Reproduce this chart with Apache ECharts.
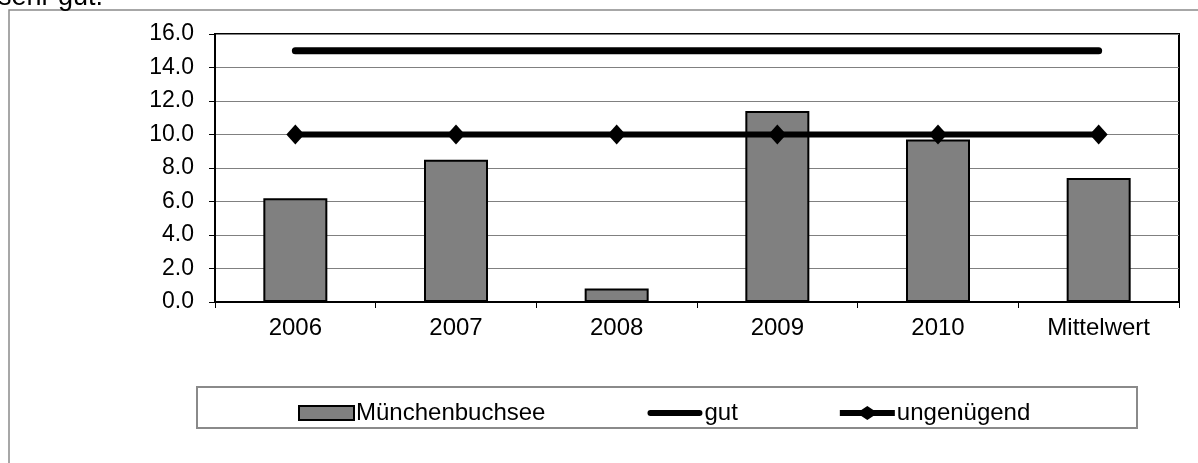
<!DOCTYPE html>
<html>
<head>
<meta charset="utf-8">
<script src="https://cdn.jsdelivr.net/npm/echarts@6/dist/echarts.min.js"></script>
<style>
  html, body { margin: 0; padding: 0; background: #fff; }
  #chart { width: 1198px; height: 463px; }
</style>
</head>
<body>
<div id="chart"></div>
<script>
const categories = ['2006', '2007', '2008', '2009', '2010', 'Mittelwert'];
const muenchenbuchsee = [6.2, 8.5, 0.8, 11.4, 9.7, 7.4];
const gut = [15, 15, 15, 15, 15, 15];
const ungenuegend = [10, 10, 10, 10, 10, 10];
const yTicks = { min: 0, max: 16, step: 2 };

// legend icons (55 x 14 box; the zero-area corners keep the full box size)
const gutIcon = 'path://M0,0L0.01,0L0,0Z M0,14L0.01,14L0,14Z M3,4L52,4A3,3 0 0 1 52,10L3,10A3,3 0 0 1 3,4Z';
const ungIcon = 'path://M0,4L21.5,4L27.5,0L33.5,4L55,4L55,10L33.5,10L27.5,14L21.5,10L0,10Z';

const chart = echarts.init(document.getElementById('chart'));

const option = {
  animation: false,
  textStyle: { fontFamily: 'Liberation Sans, Arial, sans-serif', color: '#000' },
  graphic: [
    // outer chart frame (only top and left visible)
    {
      type: 'rect', z: -1,
      shape: { x: 9, y: 10, width: 1200, height: 500 },
      style: { fill: 'none', stroke: '#8a8a8a', lineWidth: 1.5 }
    },
    // clipped text above the chart
    {
      type: 'text', left: -2, top: -16,
      style: { text: 'sehr gut.', fontSize: 27, fill: '#000', fontFamily: 'Liberation Sans, Arial, sans-serif' }
    },
    // legend box
    {
      type: 'rect',
      shape: { x: 197, y: 387, width: 940, height: 41 },
      style: { fill: '#fff', stroke: '#8a8a8a', lineWidth: 2 }
    }
  ],
  grid: {
    left: 215, top: 34, right: 19, bottom: 161,
    show: true, borderColor: '#000', borderWidth: 2, backgroundColor: 'transparent'
  },
  legend: {
    left: 298, top: 401,
    padding: 0,
    itemWidth: 55, itemHeight: 14, itemGap: 102,
    textStyle: { fontSize: 24, color: '#000', padding: [0, 0, 0, -3] },
    data: [
      { name: 'Münchenbuchsee', icon: 'rect' },
      { name: 'gut', icon: gutIcon, itemStyle: { color: '#000', borderWidth: 0 } },
      { name: 'ungenügend', icon: ungIcon, itemStyle: { color: '#000', borderWidth: 0 } }
    ],
    z: 10
  },
  xAxis: {
    type: 'category',
    data: categories,
    axisLine: { lineStyle: { color: '#000', width: 2 } },
    axisTick: { show: true, length: 6, lineStyle: { color: '#000', width: 1 } },
    axisLabel: { fontSize: 24, color: '#000', margin: 14 }
  },
  yAxis: {
    type: 'value',
    min: yTicks.min, max: yTicks.max, interval: yTicks.step,
    axisLine: { show: true, lineStyle: { color: '#000', width: 2 } },
    axisTick: { show: true, length: 6, lineStyle: { color: '#000', width: 1 } },
    axisLabel: { fontSize: 23, color: '#000', margin: 21, formatter: v => v.toFixed(1) },
    splitLine: { lineStyle: { color: '#808080', width: 1 } }
  },
  series: [
    {
      name: 'Münchenbuchsee',
      type: 'bar',
      data: muenchenbuchsee,
      barWidth: 64,
      itemStyle: { color: '#808080', borderColor: '#000', borderWidth: 2 }
    },
    {
      name: 'gut',
      type: 'line',
      data: gut,
      symbol: 'none',
      lineStyle: { color: '#000', width: 7, cap: 'round' },
      itemStyle: { color: '#000' }
    },
    {
      name: 'ungenügend',
      type: 'line',
      data: ungenuegend,
      symbol: 'diamond',
      symbolSize: [18, 20],
      lineStyle: { color: '#000', width: 6 },
      itemStyle: { color: '#000' }
    }
  ]
};

chart.setOption(option);
</script>
</body>
</html>
